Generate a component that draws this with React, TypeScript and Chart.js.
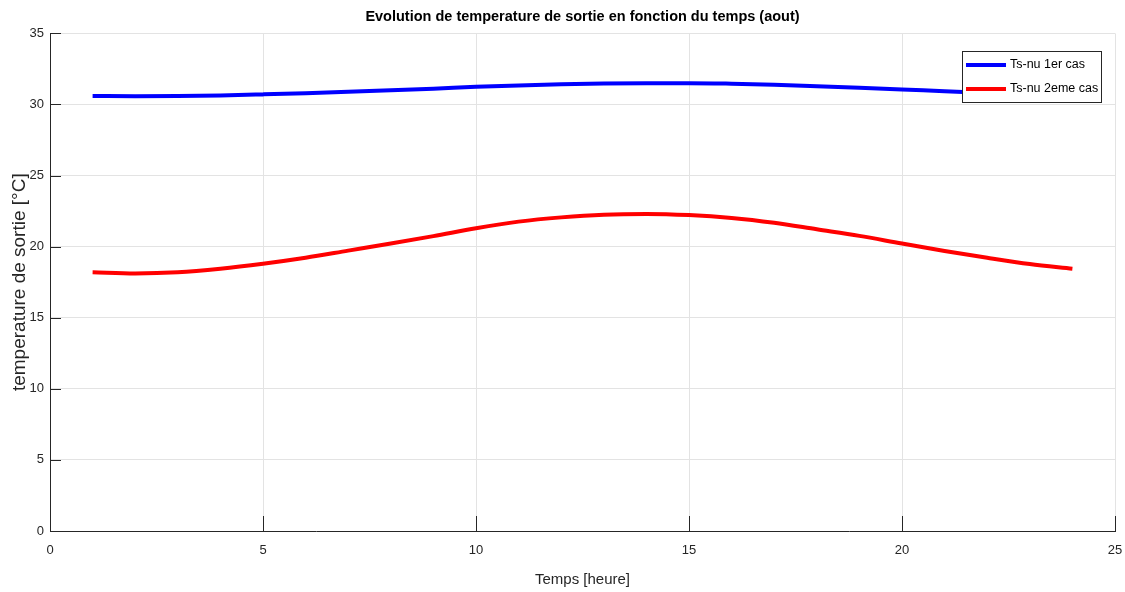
import React, { useEffect, useRef } from "react";
import { Chart, registerables } from "chart.js";

Chart.register(...registerables);

const hours = [1, 2, 3, 4, 5, 6, 7, 8, 9, 10, 11, 12, 13, 14, 15, 16, 17, 18, 19, 20, 21, 22, 23, 24];
const tsCase1 = [30.6, 30.58, 30.6, 30.64, 30.71, 30.79, 30.89, 31.0, 31.11, 31.24, 31.34, 31.42, 31.48, 31.5, 31.5, 31.46, 31.39, 31.29, 31.18, 31.06, 30.93, 30.81, 30.7, 30.62];
const tsCase2 = [18.2, 18.12, 18.2, 18.45, 18.8, 19.22, 19.72, 20.22, 20.74, 21.3, 21.76, 22.06, 22.25, 22.3, 22.22, 22.02, 21.68, 21.22, 20.76, 20.22, 19.7, 19.22, 18.78, 18.45];
const seriesLabels = ["Ts-nu 1er cas", "Ts-nu 2eme cas"];
const xTicks = [0, 5, 10, 15, 20, 25];
const yTicks = [0, 5, 10, 15, 20, 25, 30, 35];
const titleText = "Evolution de temperature de sortie en fonction du temps (aout)";
const xTitle = "Temps [heure]";
const yTitle = "temperature de sortie [°C]";

const FONT = "'Liberation Sans', Arial, sans-serif";

const inwardTicks = {
  id: "inwardTicks",
  afterDraw(chart: any) {
    const { ctx, chartArea, scales } = chart;
    ctx.save();
    ctx.strokeStyle = "#262626";
    ctx.lineWidth = 1;
    ctx.beginPath();
    for (const v of yTicks) {
      const y = Math.round(scales.y.getPixelForValue(v)) + 0.5;
      ctx.moveTo(chartArea.left, y);
      ctx.lineTo(chartArea.left + 11, y);
    }
    for (const v of xTicks) {
      const x = Math.round(scales.x.getPixelForValue(v)) + 0.5;
      ctx.moveTo(x, chartArea.bottom);
      ctx.lineTo(x, chartArea.bottom - 15);
    }
    ctx.stroke();
    ctx.restore();
  },
};

const boxLegend = {
  id: "boxLegend",
  afterDraw(chart: any) {
    const { ctx, chartArea } = chart;
    const w = 139;
    const h = 51;
    const x0 = Math.round(chartArea.right - 14 - w);
    const y0 = Math.round(chartArea.top + 18);
    ctx.save();
    ctx.fillStyle = "#ffffff";
    ctx.fillRect(x0, y0, w, h);
    ctx.strokeStyle = "#262626";
    ctx.lineWidth = 1;
    ctx.strokeRect(x0 + 0.5, y0 + 0.5, w, h);
    ctx.font = "12.5px " + FONT;
    ctx.textBaseline = "middle";
    ctx.textAlign = "left";
    chart.data.datasets.forEach((ds: any, i: number) => {
      const ly = y0 + 14 + i * 24;
      ctx.strokeStyle = ds.borderColor;
      ctx.lineWidth = 4;
      ctx.beginPath();
      ctx.moveTo(x0 + 4, ly);
      ctx.lineTo(x0 + 44, ly);
      ctx.stroke();
      ctx.fillStyle = "#000000";
      ctx.fillText(ds.label, x0 + 48, ly);
    });
    ctx.restore();
  },
};

export default function App() {
  const ref = useRef<HTMLCanvasElement>(null);
  useEffect(() => {
    document.body.style.margin = "0";
    const chart = new Chart(ref.current as HTMLCanvasElement, {
      type: "line",
      data: {
        datasets: [
          {
            label: seriesLabels[0],
            data: hours.map((h, i) => ({ x: h, y: tsCase1[i] })),
            borderColor: "#0000ff",
            borderWidth: 4,
            pointRadius: 0,
            cubicInterpolationMode: "monotone",
            fill: false,
          },
          {
            label: seriesLabels[1],
            data: hours.map((h, i) => ({ x: h, y: tsCase2[i] })),
            borderColor: "#ff0000",
            borderWidth: 4,
            pointRadius: 0,
            cubicInterpolationMode: "monotone",
            fill: false,
          },
        ],
      },
      options: {
        animation: false,
        responsive: false,
        maintainAspectRatio: false,
        layout: { padding: { left: 0, right: 0, top: 0, bottom: 0 } },
        plugins: {
          legend: { display: false },
          tooltip: { enabled: false },
          title: {
            display: true,
            fullSize: false,
            text: titleText,
            color: "#000000",
            font: { family: FONT, size: 14.5, weight: "bold", lineHeight: 1.2 },
            padding: { top: 8, bottom: 8 },
          },
        },
        scales: {
          x: {
            type: "linear",
            min: 0,
            max: 25,
            afterBuildTicks(scale: any) {
              scale.ticks = xTicks.map((v) => ({ value: v }));
            },
            afterFit(scale: any) {
              scale.height = 61;
              scale.paddingLeft = 0;
              scale.paddingRight = 10;
            },
            grid: { color: "#e3e3e3", drawTicks: false, lineWidth: 1 },
            border: { display: true, color: "#262626", width: 1 },
            ticks: {
              color: "#262626",
              padding: 12,
              maxRotation: 0,
              font: { family: FONT, size: 13 },
            },
            title: {
              display: true,
              text: xTitle,
              color: "#262626",
              font: { family: FONT, size: 15, lineHeight: 1.2 },
              padding: { top: 4, bottom: 3 },
            },
          },
          y: {
            type: "linear",
            min: 0,
            max: 35,
            afterBuildTicks(scale: any) {
              scale.ticks = yTicks.map((v) => ({ value: v }));
            },
            afterFit(scale: any) {
              scale.width = 50;
            },
            grid: { color: "#e3e3e3", drawTicks: false, lineWidth: 1 },
            border: { display: true, color: "#262626", width: 1 },
            ticks: {
              color: "#262626",
              padding: 6,
              font: { family: FONT, size: 13 },
            },
            title: {
              display: true,
              text: yTitle,
              color: "#262626",
              font: { family: FONT, size: 19, lineHeight: 1.2 },
              padding: { top: 8, bottom: 0 },
            },
          },
        },
      },
      plugins: [inwardTicks, boxLegend],
    } as any);
    return () => chart.destroy();
  }, []);
  return (
    <div style={{ position: "absolute", left: 0, top: 0, width: 1125, height: 592, background: "#ffffff" }}>
      <canvas ref={ref} width={1125} height={592} style={{ width: 1125, height: 592 }} />
    </div>
  );
}
